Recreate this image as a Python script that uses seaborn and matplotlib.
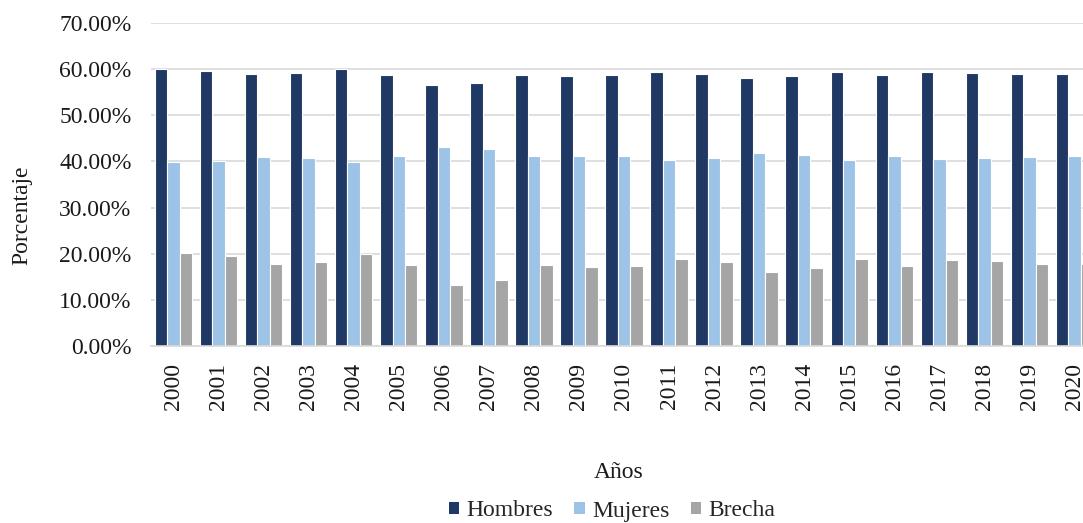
import pandas as pd
import matplotlib
matplotlib.use("Agg")
import matplotlib.pyplot as plt
import seaborn as sns
from matplotlib.ticker import FuncFormatter
from matplotlib.patches import Patch

years = [str(y) for y in range(2000, 2021)]
hombres = [60.0, 59.7, 58.9, 59.1, 60.0, 58.7, 56.6, 57.0, 58.7, 58.6, 58.7,
           59.4, 59.0, 58.0, 58.6, 59.4, 58.7, 59.4, 59.2, 59.0, 58.9]
mujeres = [39.8, 40.1, 41.0, 40.7, 39.9, 41.2, 43.2, 42.8, 41.2, 41.2, 41.2,
           40.4, 40.8, 41.8, 41.4, 40.4, 41.2, 40.5, 40.7, 40.9, 41.1]
brecha = [20.1, 19.4, 17.8, 18.3, 20.0, 17.5, 13.3, 14.2, 17.5, 17.2, 17.3,
          18.8, 18.1, 16.0, 17.0, 18.8, 17.3, 18.6, 18.4, 17.8, 17.8]

series = ["Hombres", "Mujeres", "Brecha"]
colors = ["#1F3864", "#9DC3E6", "#A5A5A5"]

df = pd.DataFrame({"year": years, "Hombres": hombres,
                   "Mujeres": mujeres, "Brecha": brecha})
long_df = df.melt(id_vars="year", var_name="serie", value_name="valor")
long_df["valor"] = long_df["valor"] / 100

sns.set_style("white")
plt.rcParams['font.family'] = ['Liberation Serif', 'DejaVu Serif']

fig = plt.figure(figsize=(10.83, 5.23), dpi=100)
ax = fig.add_axes([151 / 1083, 1 - 346 / 523, 946 / 1083, 323 / 523])

sns.barplot(data=long_df, x="year", y="valor", hue="serie",
            hue_order=series, palette=colors, width=0.83,
            edgecolor="white", linewidth=0.8, saturation=1,
            legend=False, ax=ax)

ax.set_ylim(0, 0.70)
ax.set_yticks([i / 10 for i in range(8)])
ax.yaxis.set_major_formatter(FuncFormatter(lambda v, p: f"{v * 100:.2f}%"))
ax.set_xlim(-0.5, len(years) - 0.5)
ax.grid(axis="y", color="#d9d9d9", linewidth=1.2)
ax.set_axisbelow(True)
for side in ["left", "right", "top"]:
    ax.spines[side].set_visible(False)
ax.spines["bottom"].set_color("#d9d9d9")
ax.spines["bottom"].set_linewidth(1.2)

ax.tick_params(axis="y", length=0, pad=14, labelsize=17, labelcolor="#1a1a1a")
ax.tick_params(axis="x", length=0, pad=12, labelsize=17, labelrotation=90,
               labelcolor="#1a1a1a")

ax.set_xlabel("")
ax.set_ylabel("")
fig.text(22 / 1083, 1 - 215 / 523, "Porcentaje", rotation=90, fontsize=17,
         ha="center", va="center", color="#1a1a1a")
fig.text(619 / 1083, 1 - 473 / 523, "Años", fontsize=17,
         ha="center", va="center", color="#1a1a1a")

handles = [Patch(facecolor=c, edgecolor="none") for c in colors]
fig.legend(handles, series, loc="center", bbox_to_anchor=(612 / 1083, 1 - 511 / 523),
           ncol=3, frameon=False, fontsize=17, handlelength=0.45, handleheight=0.45,
           handletextpad=0.3, columnspacing=0.9, borderaxespad=0, borderpad=0)

fig.savefig("out.png", dpi=100)
plt.close(fig)
